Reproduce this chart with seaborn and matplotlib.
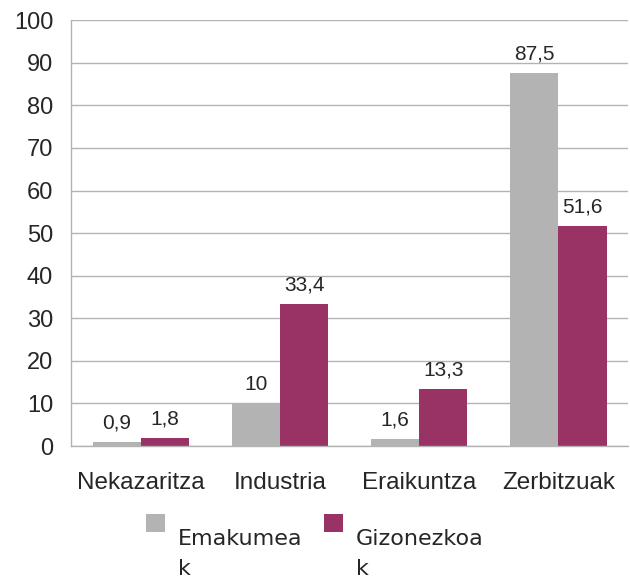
import pandas as pd
import matplotlib.pyplot as plt
import seaborn as sns
from matplotlib.patches import Rectangle
from matplotlib.legend_handler import HandlerPatch

# values
sectors = ["Nekazaritza", "Industria", "Eraikuntza", "Zerbitzuak"]
women = [0.9, 10, 1.6, 87.5]
men = [1.8, 33.4, 13.3, 51.6]
series_names = ["Emakumea\nk", "Gizonezkoa\nk"]
colors = ["#b3b3b3", "#993366"]
y_ticks = list(range(0, 101, 10))

df = pd.DataFrame({
    "sector": sectors * 2,
    "value": women + men,
    "series": [series_names[0]] * len(sectors) + [series_names[1]] * len(sectors),
})

sns.set_style("white")
plt.rcParams["font.family"] = ["Liberation Sans", "DejaVu Sans"]

fig = plt.figure(figsize=(6.3, 5.77), dpi=100)
ax = fig.add_axes([0.113, 0.227, 0.884, 0.738])

sns.barplot(data=df, x="sector", y="value", hue="series", palette=colors,
            width=0.69, gap=0, saturation=1, linewidth=0, edgecolor="none",
            ax=ax, legend=True)

# value labels, comma as decimal separator
for cont in ax.containers:
    labels = [f"{b.get_height():g}".replace(".", ",") for b in cont]
    ax.bar_label(cont, labels=labels, padding=7, fontsize=15)

ax.set_ylim(0, 100)
ax.set_yticks(y_ticks)
ax.set_xlim(-0.5, len(sectors) - 0.5)
ax.yaxis.grid(True, color="#b3b3b3", linewidth=1)
ax.set_axisbelow(True)
ax.set_xlabel("")
ax.set_ylabel("")

for s in ["top", "right"]:
    ax.spines[s].set_visible(False)
for s in ["left", "bottom"]:
    ax.spines[s].set_color("#b3b3b3")
    ax.spines[s].set_linewidth(1)

ax.tick_params(axis="y", length=8, color="#b3b3b3", pad=5, labelsize=17)
ax.tick_params(axis="x", which="major", length=0, pad=19, labelsize=17.5)
ax.set_xticks([i - 0.5 for i in range(len(sectors) + 1)], minor=True)
ax.tick_params(axis="x", which="minor", length=7, color="#b3b3b3")


# legend square sits up by the first line of the wrapped label
def top_square(legend, orig_handle, xdescent, ydescent, width, height, fontsize):
    return Rectangle((-xdescent, -ydescent + 1.4 * fontsize), width, height)


handles, labs = ax.get_legend_handles_labels()
ax.get_legend().remove()
leg = fig.legend(handles, labs, loc="upper center", bbox_to_anchor=(0.5, 0.118),
                 ncol=2, frameon=False, handlelength=0.85, handleheight=0.9,
                 handletextpad=0.6, columnspacing=0.95,
                 handler_map={h: HandlerPatch(patch_func=top_square) for h in handles},
                 prop={"family": "DejaVu Sans", "size": 16})
for t in leg.get_texts():
    t.set_linespacing(1.6)

fig.savefig("out.png", dpi=100)
